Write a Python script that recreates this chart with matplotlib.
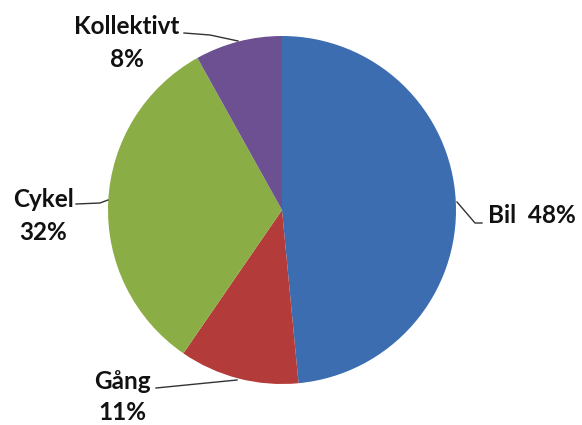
import matplotlib
matplotlib.use("Agg")
import matplotlib.pyplot as plt

categories = ["Bil", "Gång", "Cykel", "Kollektivt"]
values = [48, 11, 32, 8]
label_texts = ["Bil  48%", "Gång\n11%", "Cykel\n32%", "Kollektivt\n8%"]
colors = ["#3C6DB1", "#B33C3A", "#8BAD46", "#6D5092"]

W, H = 582, 425
fig = plt.figure(figsize=(W / 100, H / 100), dpi=100)
ax = fig.add_axes([0, 0, 1, 1])

cx, cy, r = 282, H - 210, 174
ax.pie(values, colors=colors, startangle=90, counterclock=False,
       center=(cx, cy), radius=r, frame=True,
       wedgeprops=dict(linewidth=0))
ax.set_xlim(0, W)
ax.set_ylim(0, H)
ax.set_aspect("equal")
ax.axis("off")

font = dict(family="Lato", weight="bold", size=17.5, color="#111111")

def P(x, y):
    return (x, H - y)

# Leader lines (pixel-based label placement)
lw = 1.0
lc = "#333333"
ax.plot(*zip(P(457, 202), P(475, 223), P(482, 223)), color=lc, lw=lw)
ax.plot(*zip(P(156, 388), P(237, 380)), color=lc, lw=lw)
ax.plot(*zip(P(76, 204), P(100, 203), P(108, 200)), color=lc, lw=lw)
ax.plot(*zip(P(184, 33), P(210, 35), P(238, 41)), color=lc, lw=lw)

# Labels
ax.text(*P(488, 215), label_texts[0], ha="left", va="center", linespacing=1.5, **font)
ax.text(*P(122, 397), label_texts[1], ha="center", va="center", linespacing=1.4, **font)
ax.text(*P(43, 216), label_texts[2], ha="center", va="center", linespacing=1.5, **font)
ax.text(*P(127, 43), label_texts[3], ha="center", va="center", linespacing=1.5, **font)

fig.savefig("out.png", dpi=100, facecolor="white")
